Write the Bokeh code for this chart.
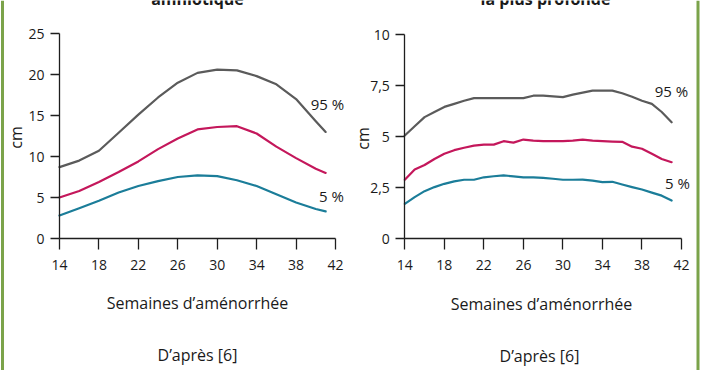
import math
from bokeh.plotting import figure
from bokeh.models import Range1d, FixedTicker, Label, LinearAxis, Span
from bokeh.layouts import row
from bokeh.embed import file_html
from bokeh.resources import INLINE

# ---------------- data ----------------
x_ticks = [14, 18, 22, 26, 30, 34, 38, 42]

# left chart (cm)
weeks_left = [14, 16, 18, 20, 22, 24, 26, 28, 30, 32, 34, 36, 38, 40, 41]
left_p95 = [8.7, 9.5, 10.7, 12.9, 15.1, 17.2, 19.0, 20.2, 20.6, 20.5, 19.8, 18.8, 17.0, 14.3, 13.0]
left_p50 = [5.0, 5.8, 6.9, 8.1, 9.4, 10.9, 12.2, 13.3, 13.6, 13.7, 12.8, 11.2, 9.8, 8.5, 8.0]
left_p5 = [2.8, 3.7, 4.6, 5.6, 6.4, 7.0, 7.5, 7.7, 7.6, 7.1, 6.4, 5.4, 4.4, 3.6, 3.3]
left_y_ticks = [0, 5, 10, 15, 20, 25]
left_title = "amniotique"

# right chart (cm)
weeks_right = list(range(14, 42))
right_p95 = [5.05, 5.5, 5.95, 6.2, 6.45, 6.6, 6.75, 6.88, 6.88, 6.88, 6.88, 6.88, 6.88, 7.0,
             7.0, 6.97, 6.93, 7.05, 7.15, 7.25, 7.25, 7.25, 7.12, 6.95, 6.75, 6.6, 6.2, 5.7]
right_p50 = [2.88, 3.38, 3.6, 3.9, 4.15, 4.33, 4.45, 4.55, 4.6, 4.6, 4.77, 4.7, 4.85, 4.8,
             4.77, 4.77, 4.77, 4.8, 4.85, 4.8, 4.77, 4.75, 4.74, 4.5, 4.4, 4.15, 3.9, 3.74]
right_p5 = [1.7, 2.03, 2.32, 2.52, 2.68, 2.8, 2.88, 2.88, 3.0, 3.05, 3.09, 3.05, 3.0, 3.0,
            2.97, 2.93, 2.88, 2.88, 2.89, 2.84, 2.76, 2.78, 2.65, 2.52, 2.4, 2.25, 2.1, 1.86]
right_y_ticks = [0, 2.5, 5, 7.5, 10]
right_y_labels = {0: "0", 2.5: "2,5", 5: "5", 7.5: "7,5", 10: "10"}
right_title = "la plus profonde"

x_title = "Semaines d’aménorrhée"
source_text = "D’après [6]"
y_title = "cm"
hi_label = "95 %"
lo_label = "5 %"

# ---------------- style / layout ----------------
FONT = "Open Sans"
GRAY = "#5b5b5b"
RED = "#c4175b"
BLUE = "#1b7d99"
GREEN = "#7ba34a"
AXIS = "#1e1e1e"
TXT = "#1a1a1a"
W, H = 351, 370


class Panel:
    """A figure whose frame fills the canvas; axes are pinned inside it."""

    def __init__(self, x_lo, x_hi, y_lo, y_hi, px_xlo, px_xhi, px_ylo, px_yhi):
        self.sx = (px_xhi - px_xlo) / (x_hi - x_lo)
        self.sy = (px_ylo - px_yhi) / (y_hi - y_lo)
        self.x0 = x_lo - px_xlo / self.sx
        self.x1 = x_hi + (W - px_xhi) / self.sx
        self.y0 = y_lo - (H - px_ylo) / self.sy
        self.y1 = y_hi + px_yhi / self.sy
        p = figure(width=W, height=H, output_backend="svg", toolbar_location=None,
                   x_range=Range1d(self.x0, self.x1), y_range=Range1d(self.y0, self.y1),
                   x_axis_location=None, y_axis_location=None, min_border=0)
        p.grid.visible = False
        p.outline_line_color = None
        p.background_fill_color = "white"
        p.border_fill_color = "white"
        self.p = p

    def dx(self, px):
        return self.x0 + px / self.sx

    def dy(self, py):
        return self.y1 - py / self.sy


def style_axis(ax):
    ax.axis_line_color = AXIS
    ax.axis_line_width = 1.3
    ax.major_tick_line_color = AXIS
    ax.major_tick_line_width = 1.3
    ax.minor_tick_line_color = None
    ax.major_tick_in = 0
    ax.major_label_text_font = FONT
    ax.major_label_text_font_size = "14px"
    ax.major_label_text_color = TXT


def build(panel, xs, p95, p50, p5, y_ticks, y_max, y_labels, title, pos):
    p = panel.p
    xa = LinearAxis(fixed_location=0, bounds=(14, 42), ticker=FixedTicker(ticks=x_ticks))
    style_axis(xa)
    xa.major_tick_out = 11
    xa.major_label_standoff = 10
    p.add_layout(xa, "below")
    ya = LinearAxis(fixed_location=14, bounds=(0, y_max), ticker=FixedTicker(ticks=y_ticks))
    style_axis(ya)
    ya.major_tick_out = 9
    ya.major_label_standoff = 6
    if y_labels:
        ya.major_label_overrides = y_labels
    p.add_layout(ya, "left")

    for ys, c in ((p95, GRAY), (p50, RED), (p5, BLUE)):
        p.line(xs, ys, line_color=c, line_width=2.2, line_join="round", line_cap="round")

    def lab(text, px, py, size, angle=0.0, style="normal", baseline="middle"):
        p.add_layout(Label(x=panel.dx(px), y=panel.dy(py), text=text, angle=angle,
                           text_align="center", text_baseline=baseline, text_font=FONT,
                           text_font_size=size, text_color=TXT, text_font_style=style))

    lab(title, *pos["title"], "16px", style="bold", baseline="alphabetic")
    lab(y_title, *pos["cm"], "16px", math.pi / 2)
    lab(hi_label, *pos["hi"], "15px")
    lab(lo_label, *pos["lo"], "15px")
    lab(x_title, *pos["xt"], "16px")
    lab(source_text, *pos["src"], "16px")


# left panel: canvas x = picture x
left = Panel(14, 42, 0, 25, 59, 335, 238, 33)
build(left, weeks_left, left_p95, left_p50, left_p5, left_y_ticks, 25, None, left_title,
      {"title": (197, -1.5), "cm": (15, 137), "hi": (327, 103), "lo": (331, 195),
       "xt": (197, 302), "src": (197, 354)})
left.p.add_layout(Span(location=left.dx(2), dimension="height", line_color=GREEN, line_width=3))

# right panel: canvas x = picture x - 351
right = Panel(14, 42, 0, 10, 53.3, 330, 238, 34)
build(right, weeks_right, right_p95, right_p50, right_p5, right_y_ticks, 10, right_y_labels,
      right_title,
      {"title": (194, -1.5), "cm": (11, 138), "hi": (320, 90), "lo": (326, 182),
       "xt": (190, 303), "src": (188, 355)})
right.p.add_layout(Span(location=right.dx(346.5), dimension="height", line_color=GREEN, line_width=3))

layout = row(left.p, right.p, spacing=0)
open("out.html", "w").write(file_html(layout, INLINE))
